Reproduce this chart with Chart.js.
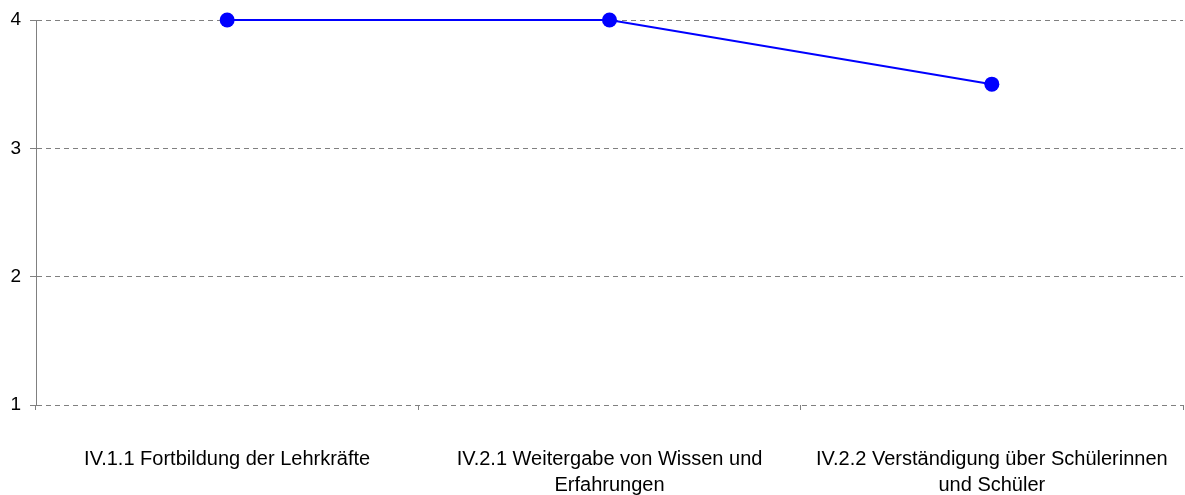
<!DOCTYPE html>
<html>
<head>
<meta charset="utf-8">
<script src="https://cdn.jsdelivr.net/npm/chart.js@4"></script>
<style>
html,body{margin:0;padding:0;background:#fff;}
#wrap{width:1185px;height:495px;position:relative;}
</style>
</head>
<body>
<div id="wrap"><canvas id="c" width="1185" height="495"></canvas></div>
<script>
const categories = [
  ["IV.1.1 Fortbildung der Lehrkräfte"],
  ["IV.2.1 Weitergabe von Wissen und", "Erfahrungen"],
  ["IV.2.2 Verständigung über Schülerinnen", "und Schüler"]
];
const values = [4, 4, 3.5];
const yTicks = [1, 2, 3, 4];

Chart.defaults.font.family = '"Liberation Sans", Arial, sans-serif';
Chart.defaults.color = '#000';

new Chart(document.getElementById('c'), {
  type: 'line',
  data: {
    labels: categories,
    datasets: [{
      data: values,
      borderColor: '#0000FF',
      backgroundColor: '#0000FF',
      borderWidth: 2,
      pointRadius: 7.5,
      pointHoverRadius: 7.5,
      pointBorderWidth: 0,
      tension: 0,
      fill: false,
      clip: false
    }]
  },
  options: {
    responsive: false,
    animation: false,
    events: [],
    layout: { autoPadding: false, padding: { top: 20, right: 2, left: 0, bottom: 0 } },
    plugins: { legend: { display: false }, tooltip: { enabled: false } },
    scales: {
      x: {
        type: 'category',
        offset: true,
        grid: {
          offset: true,
          drawOnChartArea: false,
          drawTicks: true,
          tickLength: 5,
          color: '#808080',
          lineWidth: 1
        },
        border: { display: false },
        ticks: {
          maxRotation: 0,
          autoSkip: false,
          padding: 36,
          font: { size: 20, lineHeight: 1.3 },
          color: '#000'
        },
        afterFit: s => { s.height = 90; s.paddingLeft = 0; s.paddingRight = 0; }
      },
      y: {
        min: 1,
        max: 4,
        afterBuildTicks: s => { s.ticks = yTicks.map(v => ({ value: v })); },
        grid: {
          color: '#808080',
          lineWidth: 1,
          tickLength: 6,
          tickBorderDash: []
        },
        border: { display: true, color: '#808080', width: 1, dash: [5, 4] },
        ticks: {
          padding: 9,
          font: { size: 19 },
          color: '#000'
        },
        afterFit: s => { s.width = 36; s.paddingTop = 0; s.paddingBottom = 0; }
      }
    }
  }
});
</script>
</body>
</html>
